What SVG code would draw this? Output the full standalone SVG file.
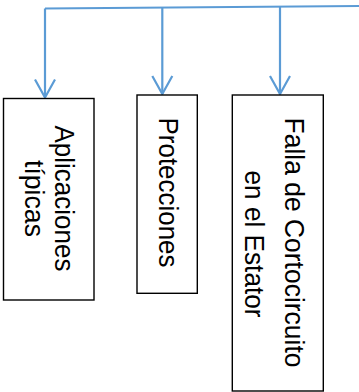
<svg xmlns="http://www.w3.org/2000/svg" width="359" height="392" viewBox="0 0 359 392">
<style>
.box{fill:#fff;stroke:#000;stroke-width:1.4}
.lbl{font-family:"Liberation Sans",Arial,sans-serif;font-size:27px;fill:#000;text-anchor:middle}
.con{fill:none;stroke:#5B9BD5;stroke-width:2.2}
</style>
<rect width="359" height="392" fill="#fff"/>
<g id="connectors">
<path class="con" d="M45,8.5 L359,6"/>
<path class="con" d="M45,8.5 V97"/>
<path class="con" d="M35,79.5 L45,97.5 L55,79.5"/>
<path class="con" d="M162.3,7.5 V94"/>
<path class="con" d="M152.3,76 L162.3,94 L172.3,76"/>
<path class="con" d="M280,7 V94"/>
<path class="con" d="M270,76 L280,94 L290,76"/>
</g>
<g id="node-aplicaciones">
<rect class="box" x="3.5" y="98.5" width="90.5" height="201.5"/>
<text class="lbl" transform="translate(55,198.5) rotate(90)" textLength="146" lengthAdjust="spacingAndGlyphs">Aplicaciones</text>
<text class="lbl" transform="translate(25,198.5) rotate(90)" textLength="77" lengthAdjust="spacingAndGlyphs">típicas</text>
</g>
<g id="node-protecciones">
<rect class="box" x="137" y="95" width="60.3" height="198.3"/>
<text class="lbl" transform="translate(158.5,192.5) rotate(90)" textLength="150" lengthAdjust="spacingAndGlyphs">Protecciones</text>
</g>
<g id="node-falla">
<rect class="box" x="232.3" y="95" width="91" height="296"/>
<text class="lbl" transform="translate(285,242.5) rotate(90)" textLength="250" lengthAdjust="spacingAndGlyphs">Falla de Cortocircuito</text>
<text class="lbl" transform="translate(245,244) rotate(90)" textLength="147" lengthAdjust="spacingAndGlyphs">en el Estator</text>
</g>
</svg>
